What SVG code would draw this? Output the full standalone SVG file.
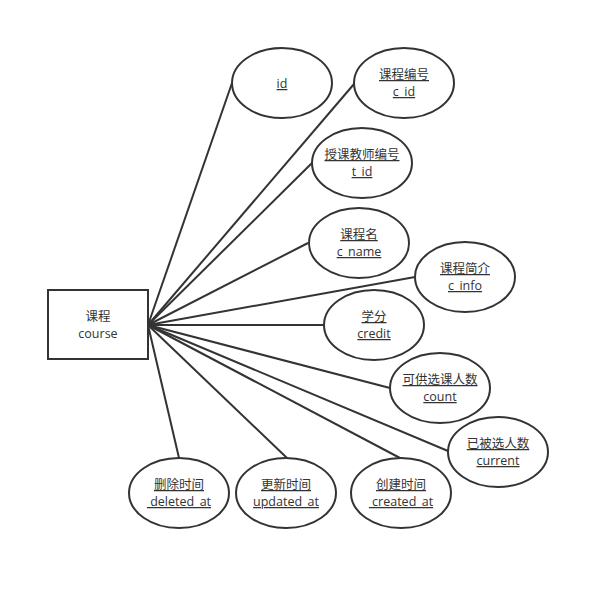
<svg xmlns="http://www.w3.org/2000/svg" width="609" height="590" viewBox="0 0 609 590">
<style>
.bg{fill:#fff}
.ent{fill:#fff;stroke:#333;stroke-width:2}
.attr{fill:#fff;stroke:#333;stroke-width:2}
.lnk{stroke:#333;stroke-width:2;fill:none}
text{font-family:"Open Sans","Noto Sans CJK SC",sans-serif;font-size:12.5px;fill:#333;text-anchor:middle}
.u{text-decoration:underline}
</style>
<rect class="bg" x="0" y="0" width="609" height="590"/>
<g id="connectors">
<line class="lnk" x1="148" y1="325" x2="232" y2="83"/>
<line class="lnk" x1="148" y1="325" x2="354" y2="84"/>
<line class="lnk" x1="148" y1="325" x2="312" y2="163"/>
<line class="lnk" x1="148" y1="325" x2="308" y2="243"/>
<line class="lnk" x1="148" y1="325" x2="415" y2="277"/>
<line class="lnk" x1="148" y1="325" x2="324" y2="325"/>
<line class="lnk" x1="148" y1="325" x2="390" y2="388"/>
<line class="lnk" x1="148" y1="325" x2="448" y2="451"/>
<line class="lnk" x1="148" y1="325" x2="179" y2="458"/>
<line class="lnk" x1="148" y1="325" x2="287" y2="458"/>
<line class="lnk" x1="148" y1="325" x2="400" y2="458"/>
</g>
<g id="course">
<rect class="ent" x="48" y="290" width="100" height="69"/>
<text x="98" y="321">课程</text>
<text x="98" y="338">course</text>
</g>
<g id="attr-id">
<ellipse class="attr" cx="282" cy="83" rx="50" ry="35"/>
<text class="u" x="282" y="88">id</text>
</g>
<g id="attr-c_id">
<ellipse class="attr" cx="404" cy="83" rx="50" ry="35"/>
<text class="u" x="404" y="79">课程编号</text>
<text class="u" x="404" y="96">c_id</text>
</g>
<g id="attr-t_id">
<ellipse class="attr" cx="362" cy="163" rx="50" ry="35"/>
<text class="u" x="362" y="159">授课教师编号</text>
<text class="u" x="362" y="176">t_id</text>
</g>
<g id="attr-c_name">
<ellipse class="attr" cx="359" cy="243" rx="50" ry="35"/>
<text class="u" x="359" y="239">课程名</text>
<text class="u" x="359" y="256">c_name</text>
</g>
<g id="attr-c_info">
<ellipse class="attr" cx="465" cy="277" rx="50" ry="35"/>
<text class="u" x="465" y="273">课程简介</text>
<text class="u" x="465" y="290">c_info</text>
</g>
<g id="attr-credit">
<ellipse class="attr" cx="374" cy="325" rx="50" ry="35"/>
<text class="u" x="374" y="321">学分</text>
<text class="u" x="374" y="338">credit</text>
</g>
<g id="attr-count">
<ellipse class="attr" cx="440" cy="388" rx="50" ry="35"/>
<text class="u" x="440" y="384">可供选课人数</text>
<text class="u" x="440" y="401">count</text>
</g>
<g id="attr-current">
<ellipse class="attr" cx="498" cy="452" rx="50" ry="35"/>
<text class="u" x="498" y="448">已被选人数</text>
<text class="u" x="498" y="465">current</text>
</g>
<g id="attr-deleted_at">
<ellipse class="attr" cx="179" cy="493" rx="50" ry="35"/>
<text class="u" x="179" y="489">删除时间</text>
<text class="u" x="179" y="506" xml:space="preserve"> deleted_at</text>
</g>
<g id="attr-updated_at">
<ellipse class="attr" cx="286" cy="493" rx="50" ry="35"/>
<text class="u" x="286" y="489">更新时间</text>
<text class="u" x="286" y="506">updated_at</text>
</g>
<g id="attr-created_at">
<ellipse class="attr" cx="401" cy="493" rx="50" ry="35"/>
<text class="u" x="401" y="489">创建时间</text>
<text class="u" x="401" y="506" xml:space="preserve"> created_at</text>
</g>
</svg>
